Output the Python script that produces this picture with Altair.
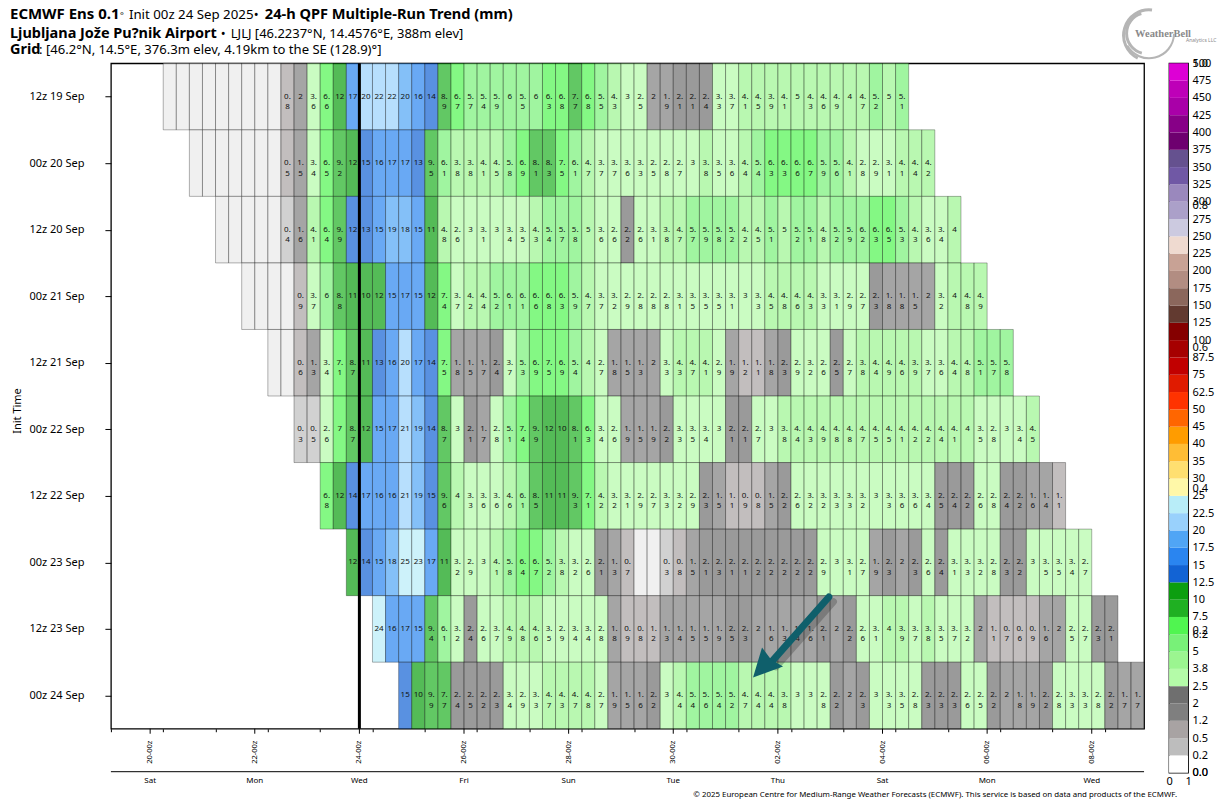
import altair as alt
import pandas as pd

init_labels = ["12z 19 Sep", "00z 20 Sep", "12z 20 Sep", "00z 21 Sep", "12z 21 Sep",
               "00z 22 Sep", "12z 22 Sep", "00z 23 Sep", "12z 23 Sep", "00z 24 Sep"]
row_starts = [1, 3, 5, 7, 9, 11, 13, 15, 17, 19]

row_0 = [0,0,0,0,0,0,0,0,0, 0.8,2,3.6,6.6,12,17, 20.2,22,22,19.8,16,14, 8.9,6.7,5.7,5.4,5.9,6,
         5.5,6,6.3,6.8,7.7,6.8, 5.5,4.3,3,2.54,2,1.9, 2.1,2.1,2.4,3.3,3.7,4.1,
         4.5,3.9,4.1,5,4.3,4.6, 4.9,4,4.7,5.2,5,5.1]
row_1 = [0,0,0,0,0,0,0, 0.54,1.5,3.4,6.5,9.2,12, 14.9,16,17,17,13,9.5, 6.1,3.8,3.8,4.1,4.5,5.8,
         6.9,8.1,8.3,7.46,6.1,4.7, 3.74,3.7,3.6,3.3,2.54,2.8, 2.7,3,3.8,3.5,3.6,4.4,
         5.4,6.3,6.3,6.6,6.7,5.9, 5.6,4.1,2.8,2.9,3.1,4.1, 4.4,4.2]
row_2 = [0,0,0,0,0, 0.4,1.6,4.1,6.4,9.9,12.5, 13,15.2,19,18,15.2,11, 4.8,2.6,3,3.1,3,3.4,
         3.5,4.3,5.4,5.7,5.8,5, 3.6,2.6,2.2,2.6,3.1,3.8, 4.7,5.7,5.9,5.8,5.2,4.2,
         4.5,5.1,5,5.2,5.1,4.8, 5.2,5.9,6.2,6.3,6.5,5.3, 4.3,3.6,3.4,4]
row_3 = [0,0,0,0, 0.9,3.7,6,8.8,11,10.2, 12,15.2,17,15.2,12,7.4, 3.7,4.2,4.4,5.2,6.1,6.1,
         6.6,6.8,6.3,5.9,4.7,3.74, 3.2,2.9,2.8,2.8,2.8,3.1, 3.5,3.5,3.5,3.1,3,3.3,
         4.5,4.8,4.6,4.3,3.3,3.1, 2.9,2.7,2.3,1.8,1.8,1.5, 2,3.2,4,4.8,4.9]
row_4 = [0,0, 0.6,1.3,3.4,7.1,8.7,11, 13,16,20,17,14,7.46, 1.8,1.5,1.7,2.4,3.7,5.3,
         6.9,7.46,6.9,5.4,4,2.7, 1.8,1.5,1.3,2,3.3,4.3, 4.7,4.1,2.9,1.9,1.2,1.1,
         1.8,2.3,2.9,3.2,2.6,2.46, 2.7,3.8,4.4,4.9,4.6,3.9, 3.7,3.6,4.4,4.8,5.1,5.7,5.8]
row_5 = [0.3,0.46,2.6,7,8.7,12, 15.2,17,21,19,14,8.7, 3,2.1,1.7,2.8,5.1,7.4,
         9.9,12,10.2,8.1,6.3,3.4, 2.6,1.9,1.5,1.9,2.2,3.3, 3.5,3.4,3,2.1,2.1,2.7,
         3,3.8,4.4,4.3,4.9,4.8, 4.8,4.7,4.5,4.5,4.1,4.2, 4.2,4.4,4.1,4,3.5,2.8, 3,3.4,4.5]
row_6 = [6.8,12,14,17,16,16, 21,19,14.9,9.6,4,3.3, 3.6,3.6,4.6,6.1,8.5,11,
         11,9.3,7.1,4.2,3.2,3.1, 2.9,2.7,3.3,3.2,2.9,2.3, 1.5,1.1,0.9,0.8,1.5,2.2,
         2.6,3.2,3.2,3.3,3.3,3.2, 3,3.3,3.6,3.6,3.4,2.46, 2.4,2.2,2.6,2.8,2.4,2.2, 1.6,1.4,1.1]
row_7 = [12,14,15.2,18,24.9,23, 17,11,3.2,2.9,3,4.1, 5.8,6.4,6.7,5.2,3.8,3.2,
         2.6,2.1,1.3,0.7,0,0, 0.3,0.8,1.5,2.1,2.3,2.1, 2.1,2.2,2.2,2.2,2.2,2.2,
         2.9,3,3.1,2.7,1.9,2.3, 2,2.3,2.6,2.4,3.1,3.3, 3.2,2.8,2.3,2.2,3,3.5, 3.5,3.4,2.7]
row_8 = [24,16,17,15.2,9.4,6.1, 3.2,2.4,2.6,3.7,4.9,4.8, 4.6,3.5,2.9,3.4,3.4,2.8,
         1.8,0.9,0.8,1.2,1.3,1.4, 1.5,1.5,1.9,2.46,2.3,2, 1.6,1.3,1.4,1.6,2.1,2,
         2.2,2.6,3.1,4,3.9,3.7, 3.8,3.5,3.7,3.2,2,1.1, 0.7,0.6,0.9,1.6,2,2.54, 2.7,2.3,2.1]
row_9 = [14.9,10.2,9.9,7.7,2.4,2.46, 2.2,2.3,3.4,2.9,3.3,4.7, 4.3,4.7,4.8,2.7,1.9,1.5,
         1.6,2.2,3,4.4,5.4,5.6, 5.4,5.2,4.7,4.4,4.4,3.8, 3,3,2.8,2.2,2,2.3,
         3,3.3,3.5,2.8,2.3,2.3, 2.3,2.6,2.54,2.2,2,1.8, 1.9,2.2,2.8,3.3,3.3,2.8, 2.2,1.7,1.7]
rows = [row_0, row_1, row_2, row_3, row_4, row_5, row_6, row_7, row_8, row_9]

bin_labels = ["0.0","0.2","0.5","1.2","2","2.5","3.8","5","6.2","7.5","10","12.5","15","17.5",
              "20","22.5","25","30","35","40","45","50","62.5","75","87.5","100","125","150",
              "175","200","225","250","275","300","325","350","375","400","425","450","475","500"]
bin_colors = ["#ffffff","#bdbdbd","#a8a3a3","#7f7f7f","#6f6f6f","#b4fba8","#9bf590","#78f178",
              "#50f550","#1fb022","#0c9e10","#1263d4","#2a85f0","#50a5f5","#99d1fc","#b8edf8",
              "#fff8a8","#ffdf70","#ffbd35","#ff9c00","#ff6600","#ff3300","#e01b00","#c10000",
              "#a60000","#850000","#623a30","#8b675c","#b28d82","#c8a295","#efdad0","#cccae0",
              "#aba0c9","#9a88bd","#7058a5","#65518f","#6e006f","#870087","#a900a8","#be00b8","#dd00d5"]
cell_thresholds = [0.05, 0.2, 0.5, 1.25, 2.05, 2.5, 3.75, 5.05, 6.25, 7.5, 10, 12.5, 15, 17.5, 20, 22.5, 25]
cell_colors = ["#e9e9e9"] + bin_colors[:17]

tick_steps = [0, 8, 16, 24, 32, 40, 48, 56, 64, 72]
tick_names = ["20-00z","22-00z","24-00z","26-00z","28-00z","30-00z","02-00z","04-00z","06-00z","08-00z"]
day_steps = [0, 8, 16, 24, 32, 40, 48, 56, 64, 72]
day_names = ["Sat","Mon","Wed","Fri","Sun","Tue","Thu","Sat","Mon","Wed"]

FONT = "Noto Sans"
W, H = 1034, 666


def label(v):
    if v == 0:
        return ""
    if v >= 10:
        return str(round(v))
    s = f"{v:.1f}"
    if s.endswith(".0"):
        return s[:-2]
    return s[:2] + "\n" + s[2:]


records = []
for r, (start, vals) in enumerate(zip(row_starts, rows)):
    for i, v in enumerate(vals):
        records.append({"s": start + i, "s2": start + i + 1, "sc": start + i + 0.5,
                        "r": r, "r2": r + 1, "rc": r + 0.5, "v": v, "t": label(v)})
cells = pd.DataFrame(records)

xs = alt.Scale(domain=[-3, 76], nice=False, zero=False)
ys = alt.Scale(domain=[10, 0], nice=False, zero=False)
row_expr = "[" + ",".join(f"'{n}'" for n in init_labels) + "][floor(datum.value)]"

xaxis = alt.Axis(values=list(range(-3, 77)), labels=False, tickSize=3, tickColor="#000", domain=False,
                 grid=False, title=None)
yaxis = alt.Axis(values=[r + 0.5 for r in range(10)], labelExpr=row_expr, labelFontSize=11, labelFont=FONT,
                 labelColor="#000", labelPadding=21, tickSize=6, tickColor="#000", domain=False,
                 grid=False, title=None)

rects = alt.Chart(cells).mark_rect(fillOpacity=0.7, stroke="#000", strokeOpacity=0.38, strokeWidth=0.8).encode(
    x=alt.X("s:Q", scale=xs, axis=xaxis),
    x2="s2:Q",
    y=alt.Y("r:Q", scale=ys, axis=yaxis),
    y2="r2:Q",
    color=alt.Color("v:Q", scale=alt.Scale(type="threshold", domain=cell_thresholds, range=cell_colors), legend=None),
)
texts = alt.Chart(cells[cells.t != ""]).mark_text(font=FONT, fontSize=8, lineBreak="\n", lineHeight=10.5,
                                                  color="#111", baseline="middle", align="center").encode(
    x=alt.X("sc:Q", scale=xs), y=alt.Y("rc:Q", scale=ys), text="t:N")

now = alt.Chart(pd.DataFrame({"s": [16], "a": [0], "b": [10]})).mark_rule(color="#000", strokeWidth=3).encode(
    x=alt.X("s:Q", scale=xs), y=alt.Y("a:Q", scale=ys), y2="b:Q")

major = alt.Chart(pd.DataFrame({"s": tick_steps})).mark_rule(color="#000", strokeWidth=1).encode(
    x=alt.X("s:Q", scale=xs), y=alt.value(H), y2=alt.value(H + 5))

tick_text = alt.Chart(pd.DataFrame({"s": tick_steps, "n": tick_names})).mark_text(
    font=FONT, fontSize=7.5, color="#000", angle=270, align="right", baseline="middle").encode(
    x=alt.X("s:Q", scale=xs), y=alt.value(H + 12), text="n:N")

day_rule = alt.Chart(pd.DataFrame({"a": [-3], "b": [76]})).mark_rule(color="#000", strokeWidth=1).encode(
    x=alt.X("a:Q", scale=xs), x2="b:Q", y=alt.value(H + 43))
days = alt.Chart(pd.DataFrame({"s": day_steps, "d": day_names})).mark_text(font=FONT, fontSize=8, color="#000").encode(
    x=alt.X("s:Q", scale=xs), y=alt.value(H + 52), text="d:N")

# arrow annotation, in data units of the grid
arrow_a = pd.DataFrame({"x": [51.9], "y": [8.02], "x2": [47.5], "y2": [9.0]})
arrow_b = pd.DataFrame({"x": [52.25], "y": [8.09], "x2": [47.85], "y2": [9.07]})
shadow = alt.Chart(arrow_b).mark_rule(color="#333", strokeWidth=7, opacity=0.3, strokeCap="round").encode(
    x=alt.X("x:Q", scale=xs), x2="x2:Q", y=alt.Y("y:Q", scale=ys), y2="y2:Q")
shaft = alt.Chart(arrow_a).mark_rule(color="#0f5f6b", strokeWidth=7, strokeCap="round").encode(
    x=alt.X("x:Q", scale=xs), x2="x2:Q", y=alt.Y("y:Q", scale=ys), y2="y2:Q")
head = alt.Chart(pd.DataFrame({"x": [46.1], "y": [9.23]})).mark_point(
    shape="M0,0 L0.3,-1 L0.6,-0.6 L1,-0.37 Z", filled=True, color="#0f5f6b", opacity=1, size=3600, strokeWidth=0).encode(
    x=alt.X("x:Q", scale=xs), y=alt.Y("y:Q", scale=ys))


def note(text, px, py, size=13, weight="normal", align="left", angle=0, color="#000", font=FONT):
    return alt.Chart(alt.Data(values=[{}])).mark_text(
        text=text, font=font, fontSize=size, fontWeight=weight, align=align, angle=angle,
        color=color, baseline="alphabetic").encode(x=alt.value(px - 111), y=alt.value(py - 63))


notes = [
    note("ECMWF Ens 0.1", 10, 19, size=15, weight="bold"),
    note("°", 120, 19, size=9),
    note("Init 00z 24 Sep 2025", 129, 19, size=13.3),
    note("•", 254, 19),
    note("24-h QPF Multiple-Run Trend (mm)", 265, 19, size=14.6, weight="bold"),
    note("Ljubljana Jože Pu?nik Airport", 10, 38, size=14.5, weight="bold"),
    note("•", 221, 38),
    note("LJLJ [46.2237°N, 14.4576°E, 388m elev]", 231, 38),
    note("Grid", 10, 54, size=14.5, weight="bold"),
    note(": [46.2°N, 14.5°E, 376.3m elev, 4.19km to the SE (128.9)°]", 39, 54, size=13.1),
    note("Init Time", 21, 411, size=11, angle=270, align="center"),
    note("© 2025 European Centre for Medium-Range Weather Forecasts (ECMWF). This service is based on data and products of the ECMWF.",
         1178, 797, size=7.9, align="right"),
    note("WeatherBell", 1136, 37, size=10.5, weight="bold", color="#8a8a8a", font="Liberation Serif"),
    note("Analytics LLC", 1187, 42, size=5, color="#8a8a8a"),
]
swirl = [
    alt.Chart(alt.Data(values=[{}])).mark_arc(radius=r, radius2=r - w, theta=t0, theta2=t1, color="#b5b5b5").encode(
        x=alt.value(cx - 111), y=alt.value(cy - 63))
    for r, w, t0, t1, cx, cy in [(27, 3, 3.6, 6.4, 1150, 35), (22, 3, 3.4, 6.0, 1148, 33), (26, 2, 1.6, 4.2, 1150, 33)]
]

main = alt.layer(rects, texts, now, major, tick_text, day_rule, days, shadow, shaft, head, *notes, *swirl).properties(width=W, height=H)

bins = pd.DataFrame({"b": list(range(41)), "b2": list(range(1, 42)), "c": bin_colors, "a": [0] * 41, "z": [1] * 41})
bin_expr = "[" + ",".join(f"'{n}'" for n in bin_labels) + "][datum.value]"
ramp = alt.Chart(bins).mark_rect().encode(
    x=alt.X("a:Q", scale=alt.Scale(domain=[0, 1], nice=False),
            axis=alt.Axis(values=[0, 1], format="d", title=None, grid=False, domain=False, tickSize=0,
                          labelFontSize=11, labelFont=FONT, labelColor="#000", labelPadding=3, labelFlush=False)),
    x2="z:Q",
    y=alt.Y("b:Q", scale=alt.Scale(domain=[0, 41], nice=False),
            axis=alt.Axis(orient="right", values=list(range(42)), labelExpr=bin_expr, title=None, grid=False, domain=False,
                          tickSize=0, labelFontSize=11, labelFont=FONT, labelColor="#000", labelPadding=4,
                          labelOverlap=False, labelFlush=False, labelBound=False)),
    y2="b2:Q",
    color=alt.Color("c:N", scale=None),
)
frac = alt.Chart(pd.DataFrame({"f": [0, 0.2, 0.4, 0.6, 0.8, 1.0]})).mark_rule(opacity=0).encode(
    y=alt.Y("f:Q", scale=alt.Scale(domain=[0, 1], nice=False),
            axis=alt.Axis(orient="right", values=[0, 0.2, 0.4, 0.6, 0.8, 1.0], format=".1f", title=None, grid=False,
                          domain=False, tickSize=0, labelFontSize=11, labelFont=FONT, labelColor="#000", labelPadding=4,
                          labelOverlap=False, labelFlush=False, labelBound=False)))
legend = alt.layer(ramp, frac).resolve_scale(y="independent").properties(width=19, height=710)

chart = alt.hconcat(main, legend, spacing=25, bounds="flush").properties(
    padding={"left": 1, "top": -2, "right": 0, "bottom": 0}, background="#ffffff").configure_view(
    stroke="#000", strokeWidth=1.3)

chart.save("out.html", embed_options={"renderer": "svg", "actions": False})
